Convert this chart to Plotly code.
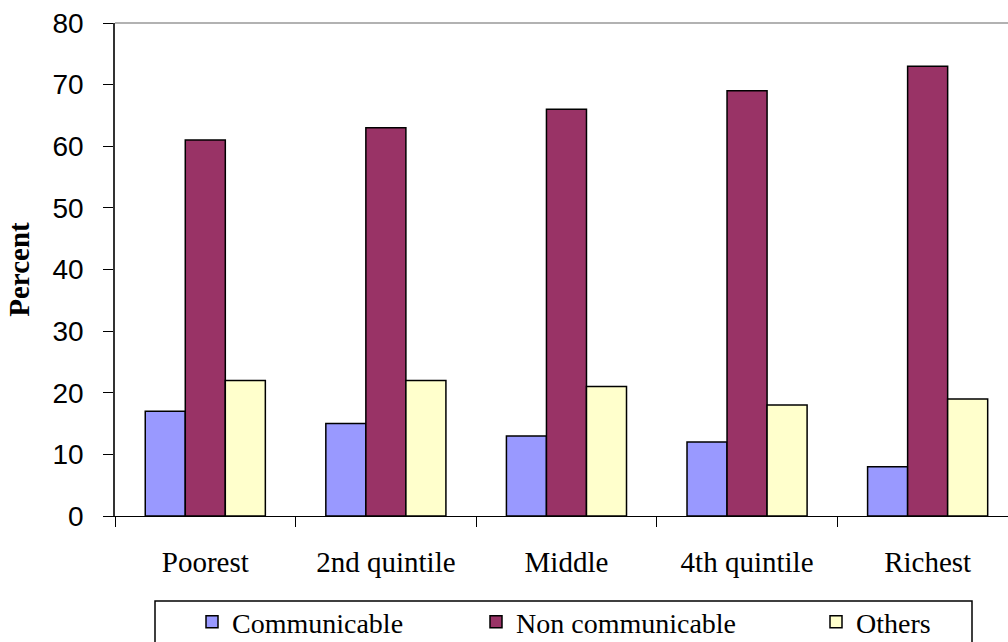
import plotly.graph_objects as go

# Share of deaths by cause group across wealth quintiles
quintiles = ["Poorest", "2nd quintile", "Middle", "4th quintile", "Richest"]
communicable = [17, 15, 13, 12, 8]
non_communicable = [61, 63, 66, 69, 73]
others = [22, 22, 21, 18, 19]

series = [
    ("Communicable", communicable, "#9999FF", "legend"),
    ("Non communicable", non_communicable, "#993366", "legend2"),
    ("Others", others, "#FFFFCC", "legend3"),
]

serif = "Liberation Serif, Times New Roman, serif"
sans = "Liberation Sans, Arial, sans-serif"

# plotting area in pixels
L, R, T, B = 115, 1008, 23, 516
W, H = R - L, B - T


def px_x(x):
    return (x - L) / W


def px_y(y):
    return (B - y) / H


fig = go.Figure()
for name, vals, color, leg in series:
    fig.add_trace(go.Bar(
        x=quintiles, y=vals, name=name, legend=leg,
        marker=dict(color=color, line=dict(color="black", width=1.5)),
    ))

legend_style = dict(
    orientation="h", xanchor="left", yanchor="middle", y=px_y(622),
    font=dict(family=serif, size=28, color="black"),
    bgcolor="rgba(0,0,0,0)", borderwidth=0,
)

fig.update_layout(
    width=1008, height=642,
    margin=dict(l=L, r=0, t=T, b=642 - B, autoexpand=False),
    paper_bgcolor="white", plot_bgcolor="white",
    barmode="group", bargap=0.335, bargroupgap=0,
    showlegend=True,
    legend=dict(x=px_x(192), **legend_style),
    legend2=dict(x=px_x(476), **legend_style),
    legend3=dict(x=px_x(816), **legend_style),
    xaxis=dict(
        range=[-0.5, 4.445], tickson="boundaries",
        ticks="outside", ticklen=10, tickcolor="black",
        showline=True, linecolor="black", linewidth=1,
        showgrid=False,
        tickfont=dict(family=serif, size=29, color="black"),
        ticklabelstandoff=20,
    ),
    yaxis=dict(
        range=[0, 80], dtick=10,
        ticks="outside", ticklen=10, tickcolor="black",
        showline=True, linecolor="#333333", linewidth=1.5,
        showgrid=False, zeroline=False,
        tickfont=dict(family=sans, size=28, color="black"),
        ticklabelstandoff=14,
        title=dict(text="<b>Percent</b>", standoff=14,
                   font=dict(family=serif, size=29, color="black")),
    ),
    shapes=[
        # grey frame line along the top of the plotting area
        dict(type="line", xref="paper", yref="paper", x0=0, x1=1, y0=1, y1=1,
             line=dict(color="#999999", width=1.5)),
        # legend frame
        dict(type="rect", xref="paper", yref="paper",
             x0=px_x(155), x1=px_x(972), y0=px_y(660), y1=px_y(601),
             line=dict(color="black", width=1.5)),
    ],
)

fig.write_html("out.html")
